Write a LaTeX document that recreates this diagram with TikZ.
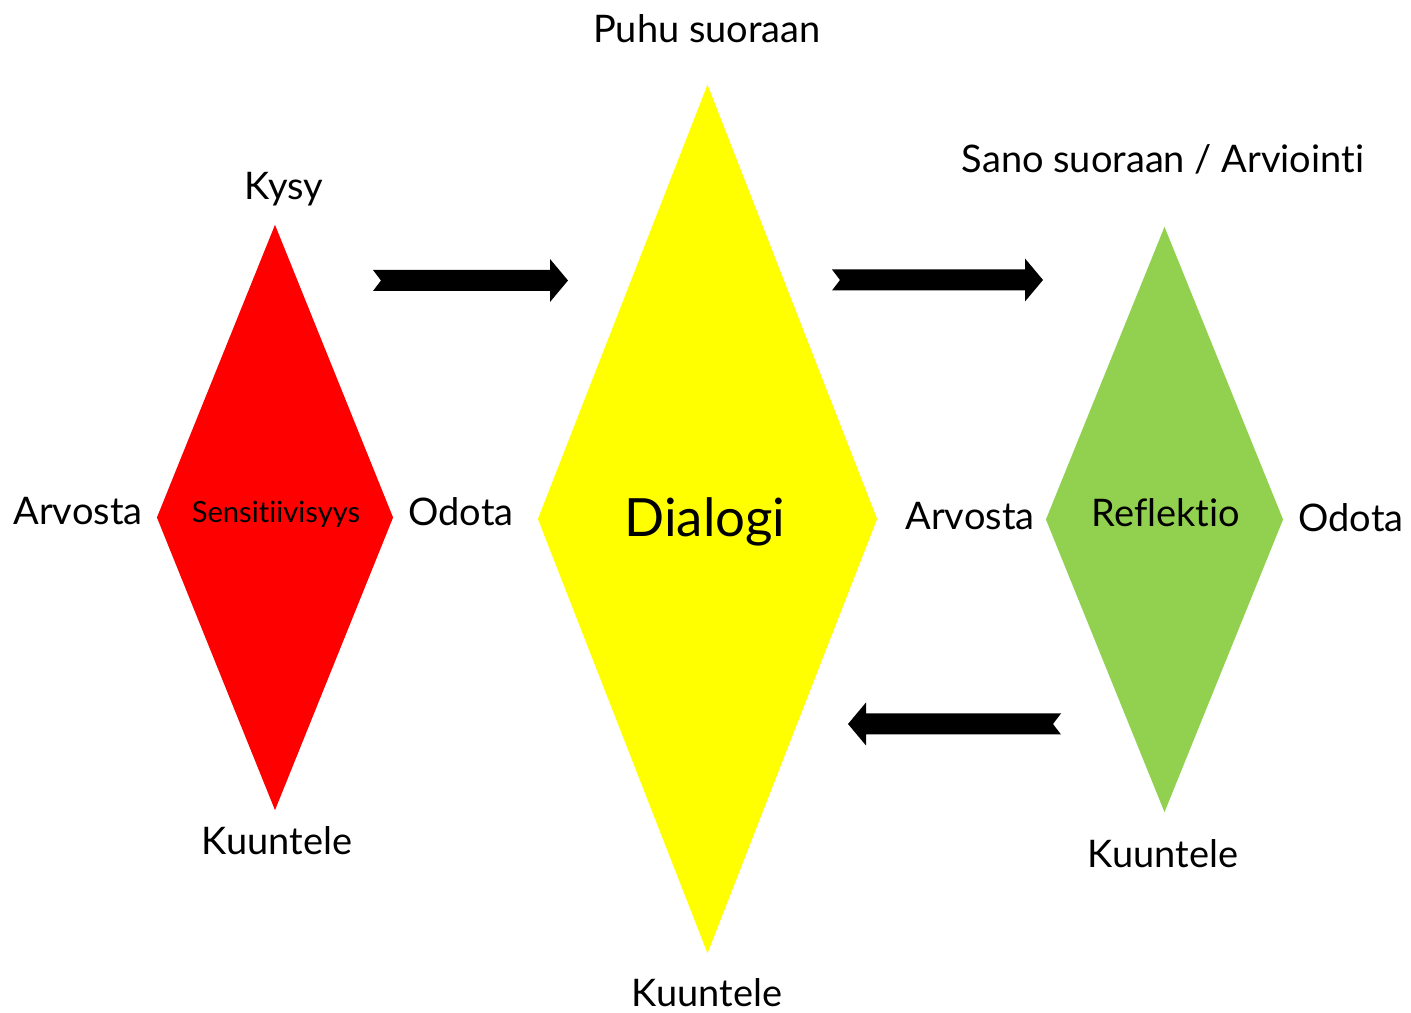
\documentclass[tikz,border=0pt]{standalone}
\usepackage{fontspec}
\setmainfont{Lato}[Ligatures=NoCommon]
\usetikzlibrary{shapes.geometric, positioning, calc}
\definecolor{sensred}{HTML}{FF0000}
\definecolor{dialyellow}{HTML}{FFFF00}
\definecolor{reflgreen}{HTML}{92D050}
\tikzset{
    rhomb/.style={
        diamond,
        draw=none,
        inner sep=0pt,
        outer sep=0pt,
        aspect=0.4,
    },
    word/.style={
        anchor=base,
        inner sep=0pt,
        font=\fontsize{10.8}{13}\selectfont,
    },
    fatarrow/.pic={
        \fill[black] (0,-10.5) -- (#1-18,-10.5) -- (#1-18,-21.5) -- (#1,0)
            -- (#1-18,21.5) -- (#1-18,10.5) -- (0,10.5) -- (8,0) -- cycle;
    },
}

\begin{document}
\begin{tikzpicture}[x=0.01cm, y=-0.01cm]
    \useasboundingbox (0,0) rectangle (1411,1013);

    % the three diamonds
    \node [rhomb, fill=sensred, minimum width=2.36cm, minimum height=5.85cm] (sens) at (275,517.5) {};
    \node [rhomb, fill=dialyellow, minimum width=3.39cm, minimum height=8.68cm] (dial) at (707.5,519) {};
    \node [rhomb, fill=reflgreen, minimum width=2.37cm, minimum height=5.85cm] (refl) at (1164.5,519.5) {};

    % their names
    \node [word, font=\fontsize{8.3}{10}\selectfont] (sens-t) at (276,523) {Sensitiivisyys};
    \node [word, font=\fontsize{15}{18}\selectfont] (dial-t) at (705,537) {Dialogi};
    \node [word] (refl-t) at (1166,527) {Reflektio};

    % words round the red one
    \node [word] (kysy) at (284,200) {Kysy};
    \node [word] (arv-s) at (78,525) {Arvosta};
    \node [word] (odo-s) at (461,526) {Odota};
    \node [word] (kuu-s) at (277,855) {Kuuntele};

    % words round the yellow one
    \node [word] (puhu) at (707,43) {Puhu suoraan};
    \node [word] (kuu-d) at (707,1007) {Kuuntele};

    % words round the green one
    \node [word] (sano) at (1163,173) {Sano suoraan / Arviointi};
    \node [word] (arv-r) at (970,530) {Arvosta};
    \node [word] (odo-r) at (1351,532) {Odota};
    \node [word] (kuu-r) at (1163,868) {Kuuntele};

    % arrows
    \pic at (373,280.5) {fatarrow=195};
    \pic at (832,280) {fatarrow=211};
    \pic [rotate=180] at (1061,724) {fatarrow=213};
\end{tikzpicture}
\end{document}
